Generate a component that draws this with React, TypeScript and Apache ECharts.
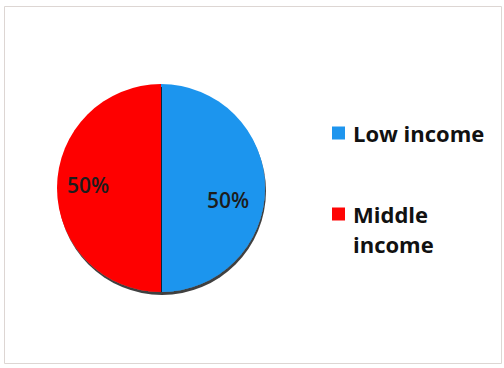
import React, { useEffect, useRef } from "react";
import * as echarts from "echarts";

const categories = ["Low income", "Middle income"];
const values = [50, 50];
const colors = ["#1E95EE", "#FE0505"];

export default function App() {
  const ref = useRef<HTMLDivElement>(null);
  useEffect(() => {
    const chart = echarts.init(ref.current!, null, { renderer: "svg" });
    const labelShift = [
      [12, 12],
      [-18, -3],
    ];
    chart.setOption({
      animation: false,
      backgroundColor: "#ffffff",
      graphic: [
        {
          type: "rect",
          shape: { x: 4.5, y: 6.5, width: 497, height: 357 },
          style: { fill: "none", stroke: "#ddd6d3", lineWidth: 1 },
          silent: true,
        },
      ],
      legend: {
        orient: "vertical",
        left: 327,
        top: 113,
        itemWidth: 13,
        itemHeight: 13,
        itemGap: 21,
        icon: "rect",
        data: categories,
        formatter: (n: string) =>
          n === categories[1] ? "\n" + n.replace(" ", "\n") : n,
        textStyle: {
          fontFamily: "Open Sans",
          fontWeight: "bold",
          fontSize: 22,
          color: "#111",
          lineHeight: 30,
          padding: [0, 0, 0, 3],
        },
      },
      series: [
        {
          type: "pie",
          center: [161, 188],
          radius: 104,
          startAngle: 90,
          clockwise: true,
          data: categories.map((c, i) => ({
            name: c,
            value: values[i],
            itemStyle: { color: colors[i] },
          })),
          itemStyle: {
            shadowColor: "rgba(0,0,0,0.75)",
            shadowOffsetY: 3,
            shadowOffsetX: 1,
            shadowBlur: 1,
          },
          label: {
            show: true,
            position: "inside",
            formatter: "{d}%",
            fontFamily: "Open Sans",
            fontSize: 21,
            fontWeight: 600,
            color: "#1c1c1c",
          },
          labelLine: { show: false },
          labelLayout: (p: any) => ({
            dx: labelShift[p.dataIndex][0],
            dy: labelShift[p.dataIndex][1],
          }),
        },
      ],
    });
    return () => chart.dispose();
  }, []);
  return (
    <div
      ref={ref}
      style={{ position: "fixed", left: 0, top: 0, width: 504, height: 368 }}
    />
  );
}
